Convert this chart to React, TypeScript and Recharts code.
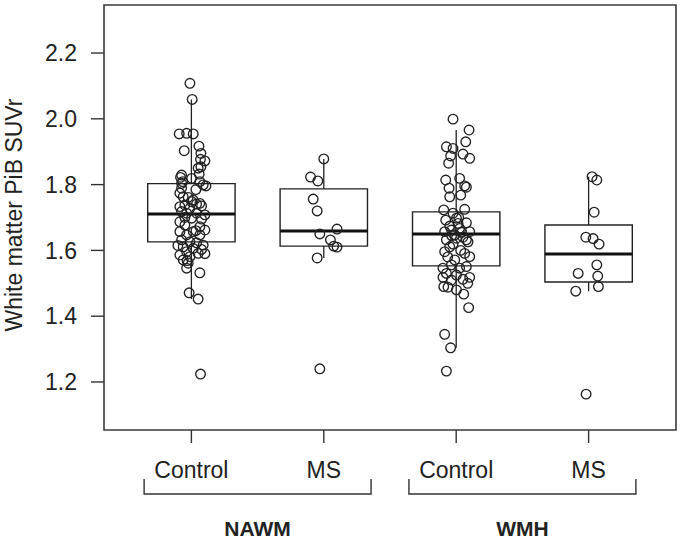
import { ComposedChart, XAxis, YAxis, Scatter, ReferenceArea, ReferenceLine } from 'recharts';

const FONT = '"Liberation Sans", Arial, Helvetica, sans-serif';
const INK = '#222';

const WIDTH = 681;
const HEIGHT = 539;
const MARGIN = { top: 5, right: 5, left: 0, bottom: 0 };
const YAXIS_W = 104;
const XAXIS_H = 109;

const X_MIN = 0.34;
const X_MAX = 4.66;
const Y_MIN = 1.054;
const Y_MAX = 2.346;
const BOX_HALF = 0.33;
const BRACKET_HALF = 0.857;
const PX_PER_UNIT = (WIDTH - MARGIN.left - MARGIN.right - YAXIS_W) / (X_MAX - X_MIN);

const groupPositions = [1, 2, 3, 4];
const categoryLabels = ['Control', 'MS', 'Control', 'MS'];
const regionLabels = ['NAWM', 'WMH'];
const yTicks = [1.2, 1.4, 1.6, 1.8, 2.0, 2.2];

// [whisker low, Q1, median, Q3, whisker high]
const boxStats = [
  [1.452, 1.626, 1.711, 1.803, 2.059],
  [1.577, 1.613, 1.659, 1.787, 1.878],
  [1.304, 1.553, 1.65, 1.717, 1.966],
  [1.476, 1.504, 1.589, 1.677, 1.824],
];

// points: [jitter, value]
const nawmControl = [
  [-0.011, 2.108], [0.006, 2.059], [-0.092, 1.954], [-0.036, 1.956], [0.014, 1.954],
  [-0.054, 1.903], [0.057, 1.917], [0.072, 1.895], [0.069, 1.877], [0.102, 1.872],
  [0.072, 1.854], [0.059, 1.832], [-0.074, 1.829], [-0.082, 1.822], [-0.066, 1.809],
  [0.002, 1.819], [0.064, 1.809], [0.089, 1.799], [0.11, 1.796], [-0.074, 1.789],
  [-0.087, 1.774], [-0.062, 1.763], [-0.024, 1.761], [0.002, 1.748], [0.039, 1.741],
  [0.077, 1.735], [-0.087, 1.733], [0.051, 1.85], [-0.074, 1.804], [0.014, 1.753],
  [0.064, 1.743], [-0.049, 1.738], [-0.011, 1.728], [-0.074, 1.718], [-0.036, 1.713],
  [0.039, 1.713], [0.102, 1.708], [0.002, 1.698], [0.077, 1.695], [-0.087, 1.687],
  [-0.049, 1.677], [0.064, 1.672], [0.102, 1.662], [-0.087, 1.657], [0.014, 1.657],
  [-0.036, 1.647], [0.064, 1.647], [-0.074, 1.632], [-0.011, 1.626], [0.039, 1.623],
  [0.089, 1.616], [-0.062, 1.611], [0.014, 1.606], [0.077, 1.603], [-0.036, 1.596],
  [0.051, 1.591], [-0.087, 1.586], [-0.011, 1.581], [-0.062, 1.571], [-0.032, 1.569],
  [-0.024, 1.561], [-0.036, 1.546], [0.064, 1.532], [-0.017, 1.471], [0.051, 1.452],
  [0.069, 1.224], [0.034, 1.785], [-0.049, 1.7], [0.034, 1.66], [-0.102, 1.615],
  [0.102, 1.59],
];

const nawmMS = [
  [0.0, 1.878], [-0.1, 1.823], [-0.045, 1.811], [-0.08, 1.756], [-0.05, 1.72],
  [0.1, 1.665], [-0.03, 1.65], [0.05, 1.632], [0.075, 1.613], [0.1, 1.61],
  [-0.05, 1.577], [-0.03, 1.24],
];

const wmhControl = [
  [-0.024, 1.999], [0.097, 1.966], [0.072, 1.93], [-0.074, 1.915], [-0.024, 1.91],
  [-0.042, 1.887], [0.051, 1.893], [0.102, 1.88], [-0.057, 1.865], [-0.079, 1.814],
  [0.026, 1.819], [-0.054, 1.789], [0.064, 1.796], [0.077, 1.792], [-0.049, 1.763],
  [0.034, 1.768], [-0.094, 1.723], [0.064, 1.725], [-0.024, 1.713], [-0.079, 1.692],
  [0.002, 1.698], [0.077, 1.684], [-0.049, 1.674], [0.026, 1.667], [-0.087, 1.657],
  [0.102, 1.657], [-0.011, 1.647], [0.051, 1.64], [-0.074, 1.632], [0.089, 1.626],
  [-0.024, 1.619], [0.014, 1.682], [-0.036, 1.662], [0.002, 1.637], [0.077, 1.632],
  [-0.049, 1.611], [-0.087, 1.596], [0.064, 1.591], [0.102, 1.581], [-0.011, 1.571],
  [-0.036, 1.556], [-0.1, 1.546], [0.026, 1.546], [0.077, 1.551], [-0.074, 1.53],
  [0.002, 1.525], [-0.1, 1.518], [0.102, 1.518], [-0.036, 1.51], [0.051, 1.512],
  [-0.062, 1.488], [0.002, 1.48], [0.057, 1.467], [0.094, 1.426], [-0.087, 1.345],
  [-0.042, 1.304], [-0.074, 1.233], [0.034, 1.6], [-0.064, 1.58], [0.019, 1.7],
  [-0.094, 1.49], [0.087, 1.5], [-0.034, 1.645], [0.042, 1.655],
];

const wmhMS = [
  [0.026, 1.824], [0.062, 1.814], [0.042, 1.716], [-0.021, 1.64], [0.034, 1.636],
  [0.079, 1.619], [0.062, 1.556], [-0.079, 1.53], [0.069, 1.522], [0.074, 1.49],
  [-0.097, 1.476], [-0.019, 1.163],
];

const groups = [nawmControl, nawmMS, wmhControl, wmhMS];

const toPoints = (pts: number[][], pos: number) => pts.map(([dx, v]) => ({ x: pos + dx, y: v }));

const OpenCircle = (props: any) => {
  const { cx, cy } = props;
  if (cx == null || cy == null) return null;
  return <circle cx={cx} cy={cy} r={4.8} fill="none" stroke={INK} strokeWidth={1.35} />;
};

const CategoryTick = (props: any) => {
  const { x, y, payload } = props;
  const i = groupPositions.indexOf(payload.value);
  const first = i % 2 === 0;
  const cx = x + 0.5 * PX_PER_UNIT;
  const half = BRACKET_HALF * PX_PER_UNIT;
  return (
    <g>
      <text x={x} y={y} dy={33} textAnchor="middle" fontFamily={FONT} fontSize={23} fill={INK}>
        {categoryLabels[i]}
      </text>
      {first && (
        <g>
          <path
            d={`M${cx - half},${y + 34} V${y + 49} H${cx + half} V${y + 34}`}
            fill="none"
            stroke="#333"
            strokeWidth={1.4}
          />
          <text x={cx} y={y + 91} textAnchor="middle" fontFamily={FONT} fontSize={21} fontWeight="bold" fill={INK}>
            {regionLabels[i / 2]}
          </text>
        </g>
      )}
    </g>
  );
};

const YTitle = () => (
  <text
    x={22}
    y={215}
    transform="rotate(-90, 22, 215)"
    textAnchor="middle"
    fontFamily={FONT}
    fontSize={23}
    fill={INK}
  >
    White matter PiB SUVr
  </text>
);

export default function App() {
  return (
    <div style={{ position: 'absolute', left: 0, top: 0, background: '#fff' }}>
      <ComposedChart width={WIDTH} height={HEIGHT} margin={MARGIN}>
        <XAxis
          type="number"
          dataKey="x"
          domain={[X_MIN, X_MAX]}
          ticks={groupPositions}
          interval={0}
          allowDataOverflow
          axisLine={false}
          tickSize={13}
          tickMargin={2}
          tickLine={{ stroke: '#333', strokeWidth: 1.4 }}
          height={XAXIS_H}
          tick={<CategoryTick />}
        />
        <YAxis
          type="number"
          dataKey="y"
          domain={[Y_MIN, Y_MAX]}
          ticks={yTicks}
          interval={0}
          allowDataOverflow
          width={YAXIS_W}
          axisLine={false}
          tickSize={13}
          tickMargin={14}
          tickLine={{ stroke: '#333', strokeWidth: 1.4 }}
          tick={{ fill: INK, fontSize: 23, fontFamily: FONT }}
          tickFormatter={(v: number) => v.toFixed(1)}
          label={<YTitle />}
        />
        <ReferenceArea
          x1={X_MIN}
          x2={X_MAX}
          y1={Y_MIN}
          y2={Y_MAX}
          fill="none"
          fillOpacity={0}
          stroke="#3a3a3a"
          strokeWidth={1.6}
          ifOverflow="visible"
        />
        {boxStats.map(([lo, q1, med, q3, hi], i) => {
          const pos = groupPositions[i];
          return [
            <ReferenceLine
              key={`wl${i}`}
              segment={[{ x: pos, y: lo }, { x: pos, y: q1 }]}
              stroke={INK}
              strokeWidth={1.3}
              ifOverflow="visible"
            />,
            <ReferenceLine
              key={`wh${i}`}
              segment={[{ x: pos, y: q3 }, { x: pos, y: hi }]}
              stroke={INK}
              strokeWidth={1.3}
              ifOverflow="visible"
            />,
            <ReferenceArea
              key={`b${i}`}
              x1={pos - BOX_HALF}
              x2={pos + BOX_HALF}
              y1={q1}
              y2={q3}
              fill="none"
              fillOpacity={0}
              stroke={INK}
              strokeWidth={1.4}
              ifOverflow="visible"
            />,
            <ReferenceLine
              key={`m${i}`}
              segment={[{ x: pos - BOX_HALF, y: med }, { x: pos + BOX_HALF, y: med }]}
              stroke="#111"
              strokeWidth={3}
              ifOverflow="visible"
            />,
          ];
        })}
        {groups.map((pts, i) => (
          <Scatter
            key={`s${i}`}
            data={toPoints(pts, groupPositions[i])}
            shape={<OpenCircle />}
            isAnimationActive={false}
          />
        ))}
      </ComposedChart>
    </div>
  );
}
